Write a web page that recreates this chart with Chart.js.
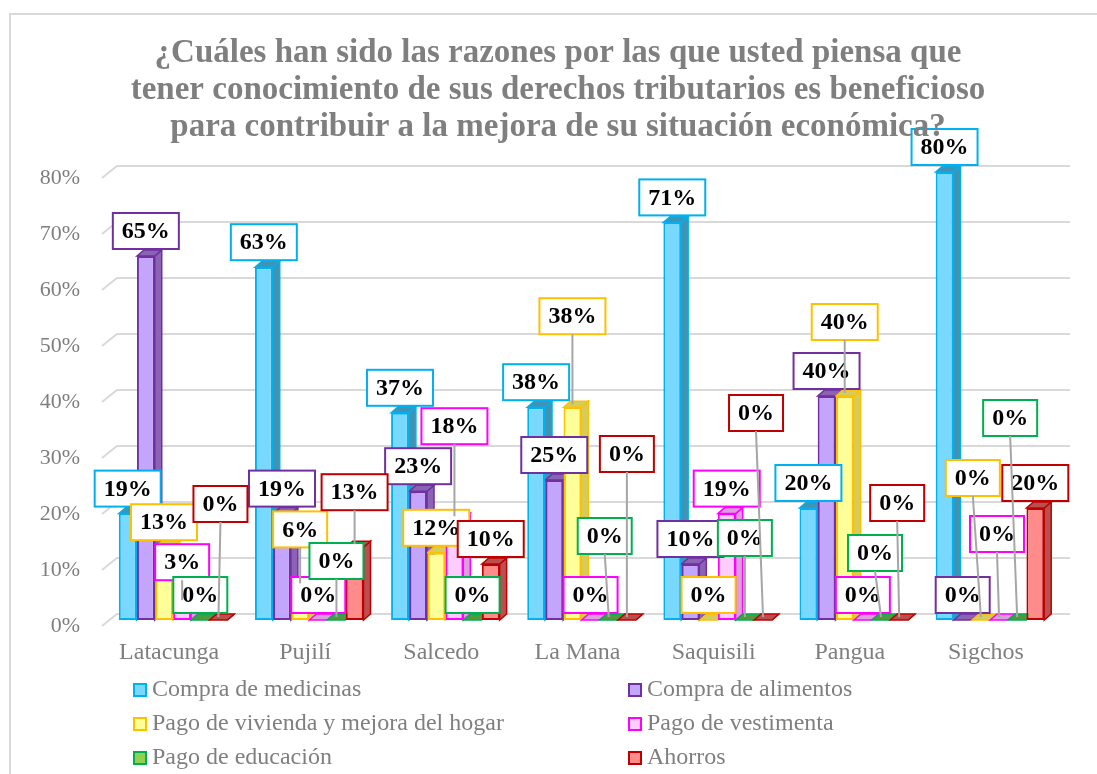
<!DOCTYPE html>
<html lang="es">
<head>
<meta charset="utf-8" />
<title>Razones - derechos tributarios</title>
<script src="https://cdn.jsdelivr.net/npm/chart.js@4.4.0/dist/chart.umd.min.js"></script>
<style>
    body { margin: 0; background: #fff; }
    #wrap { position: relative; width: 1097px; height: 774px; overflow: hidden; }
    #frame { position: absolute; left: 9px; top: 13px; width: 1100px; height: 780px; border: 2px solid #d9d9d9; }
    #chartBox { position: absolute; left: 0; top: 0; width: 1097px; height: 774px; }
    .leg { position: absolute; font: 24px 'Liberation Serif', 'Times New Roman', serif; color: #7f7f7f; line-height: 28px; white-space: nowrap; }
    .leg span { display: inline-block; width: 14px; height: 14px; box-sizing: border-box; border: 2px solid; margin-right: 5px; vertical-align: -1px; }
</style>
</head>
<body>
<div id="wrap">
    <div id="frame"></div>
    <div id="chartBox"><canvas id="razones"></canvas></div>
</div>

<script>
    // data (percent)
    var categories = ["Latacunga", "Pujilí", "Salcedo", "La Mana", "Saquisili", "Pangua", "Sigchos"];
    var seriesNames = ["Compra de medicinas", "Compra de alimentos", "Pago de vivienda y mejora del hogar",
        "Pago de vestimenta", "Pago de educación", "Ahorros"];
    var medicinas  = [19, 63, 37, 38, 71, 20, 80];
    var alimentos  = [65, 19, 23, 25, 10, 40, 0];
    var vivienda   = [13, 6, 12, 38, 0, 40, 0];
    var vestimenta = [3, 0, 18, 0, 19, 0, 0];
    var educacion  = [0, 0, 0, 0, 0, 0, 0];
    var ahorros    = [0, 13, 10, 0, 0, 0, 20];
    var yTicks = [0, 10, 20, 30, 40, 50, 60, 70, 80];

    var titleLines = ["¿Cuáles han sido las razones por las que usted piensa que",
        "tener conocimiento de sus derechos tributarios es beneficioso",
        "para contribuir a la mejora de su situación económica?"];

    // styles
    var fills   = ["#78d8fd", "#c3a5fb", "#ffff99", "#ffccff", "#92d050", "#ff8b8b"];
    var borders = ["#00b0f0", "#7030a0", "#ffc000", "#ff00ff", "#00b050", "#c00000"];
    var sides   = ["#3f93b3", "#8a63b5", "#d6cc5c", "#d9a0d9", "#4f9a3f", "#b85050"];

    // data labels that Excel moved away from the bar (series,category -> dx,dy)
    var labelShift = {
        "3,0": [0, -41], "5,0": [2, -116],
        "2,1": [0, -57], "4,1": [0, -59], "5,1": [0, -55],
        "3,2": [0, -93],
        "2,3": [0, -91], "4,3": [-4, -84], "5,3": [0, -166],
        "4,4": [0, -82], "5,4": [-7, -207],
        "2,5": [0, -74], "4,5": [-6, -67], "5,5": [-2, -117],
        "2,6": [-8, -142], "3,6": [-2, -86], "4,6": [-7, -202]
    };

    var FONT = "'Liberation Serif', 'Times New Roman', serif";
    var DX = 7, DY = -6;

    var seriesValues = [medicinas, alimentos, vivienda, vestimenta, educacion, ahorros];

    // back wall grid with the little 3D bend on the left
    var gridPlugin = {
        id: "grid3d",
        beforeDatasetsDraw: function (chart) {
            var ctx = chart.ctx, y = chart.scales.y, area = chart.chartArea;
            ctx.save();
            ctx.strokeStyle = "#d9d9d9";
            ctx.lineWidth = 2;
            yTicks.forEach(function (v) {
                var py = y.getPixelForValue(v);
                ctx.beginPath();
                ctx.moveTo(area.left - 3, py + 6);
                ctx.lineTo(area.left + 12, py + DY);
                ctx.lineTo(area.right + 12, py + DY);
                ctx.stroke();
            });
            // side and top faces of the bars, fronts are painted over them
            chart.data.datasets.forEach(function (ds, i) {
                var meta = chart.getDatasetMeta(i);
                meta.data.forEach(function (el) {
                    var p = el.getProps(["x", "y", "base", "width"], true);
                    var l = p.x - p.width / 2, r = p.x + p.width / 2;
                    ctx.fillStyle = sides[i];
                    ctx.strokeStyle = borders[i];
                    ctx.lineWidth = 1.5;
                    ctx.beginPath();
                    ctx.moveTo(r, p.y);
                    ctx.lineTo(r + DX, p.y + DY);
                    ctx.lineTo(r + DX, p.base + DY);
                    ctx.lineTo(r, p.base);
                    ctx.closePath();
                    ctx.fill();
                    ctx.stroke();
                    ctx.beginPath();
                    ctx.moveTo(l, p.y);
                    ctx.lineTo(l + DX, p.y + DY);
                    ctx.lineTo(r + DX, p.y + DY);
                    ctx.lineTo(r, p.y);
                    ctx.closePath();
                    ctx.fill();
                    ctx.stroke();
                });
            });
            ctx.restore();
        }
    };

    var labelPlugin = {
        id: "boxLabels",
        afterDatasetsDraw: function (chart) {
            var ctx = chart.ctx;
            var leaders = [];
            ctx.save();
            ctx.font = "bold 24px " + FONT;
            ctx.textAlign = "center";
            ctx.textBaseline = "middle";
            chart.data.datasets.forEach(function (ds, i) {
                var meta = chart.getDatasetMeta(i);
                meta.data.forEach(function (el, j) {
                    var p = el.getProps(["x", "y"], true);
                    var txt = ds.data[j] + "%";
                    var sh = labelShift[i + "," + j] || [0, -25];
                    var cx = p.x + sh[0], cy = p.y + sh[1];
                    var w = ctx.measureText(txt).width + 18, h = 36;
                    ctx.fillStyle = "#fff";
                    ctx.fillRect(cx - w / 2, cy - h / 2, w, h);
                    ctx.strokeStyle = borders[i];
                    ctx.lineWidth = 2;
                    ctx.strokeRect(cx - w / 2, cy - h / 2, w, h);
                    ctx.fillStyle = "#000";
                    ctx.fillText(txt, cx, cy + 1);
                    if (p.y - 6 - (cy + h / 2) > 8) {
                        leaders.push([cx, cy + h / 2, p.x, p.y - 3]);
                    }
                });
            });
            ctx.strokeStyle = "#a6a6a6";
            ctx.lineWidth = 2;
            leaders.forEach(function (l) {
                ctx.beginPath();
                ctx.moveTo(l[0], l[1]);
                ctx.lineTo(l[2], l[3]);
                ctx.stroke();
            });
            ctx.restore();
        }
    };

    var titlePlugin = {
        id: "title3",
        afterDraw: function (chart) {
            var ctx = chart.ctx;
            ctx.save();
            ctx.font = "bold 33px " + FONT;
            ctx.fillStyle = "#7f7f7f";
            ctx.textAlign = "center";
            ctx.textBaseline = "alphabetic";
            titleLines.forEach(function (t, k) {
                ctx.fillText(t, 558, 62 + k * 37);
            });
            ctx.restore();
        }
    };

    var razonesChart = new Chart(document.getElementById("razones").getContext("2d"), {
        type: "bar",
        data: {
            labels: categories,
            datasets: seriesValues.map(function (vals, i) {
                return {
                    label: seriesNames[i],
                    data: vals,
                    backgroundColor: fills[i],
                    borderColor: borders[i],
                    borderWidth: 2,
                    borderSkipped: false,
                    barPercentage: 0.98,
                    categoryPercentage: 0.8
                };
            })
        },
        options: {
            responsive: true,
            maintainAspectRatio: false,
            animation: false,
            layout: {
                padding: { top: 172, left: 39, right: 39, bottom: 108 }
            },
            plugins: {
                legend: { display: false },
                title: { display: false },
                tooltip: { enabled: false }
            },
            scales: {
                x: {
                    grid: { display: false, drawTicks: false },
                    border: { display: false },
                    afterFit: function (s) { s.height = 46; },
                    ticks: {
                        font: { family: FONT, size: 24 },
                        color: "#7f7f7f",
                        padding: 18,
                        labelOffset: -4,
                        maxRotation: 0
                    }
                },
                y: {
                    min: 0,
                    max: 80,
                    grid: { display: false, drawTicks: false },
                    border: { display: false },
                    afterFit: function (s) { s.width = 66; },
                    ticks: {
                        stepSize: 10,
                        font: { family: FONT, size: 22 },
                        color: "#7f7f7f",
                        padding: 25,
                        labelOffset: 6,
                        callback: function (v) { return v + "%"; }
                    }
                }
            }
        },
        plugins: [gridPlugin, labelPlugin, titlePlugin]
    });

    // two-column legend like the Excel one
    var wrap = document.getElementById("wrap");
    seriesNames.forEach(function (name, i) {
        var d = document.createElement("div");
        d.className = "leg";
        d.style.left = (133 + (i % 2) * 495) + "px";
        d.style.top = (674 + Math.floor(i / 2) * 34) + "px";
        var sw = document.createElement("span");
        sw.style.background = fills[i];
        sw.style.borderColor = borders[i];
        d.appendChild(sw);
        d.appendChild(document.createTextNode(name));
        wrap.appendChild(d);
    });
</script>
</body>
</html>
